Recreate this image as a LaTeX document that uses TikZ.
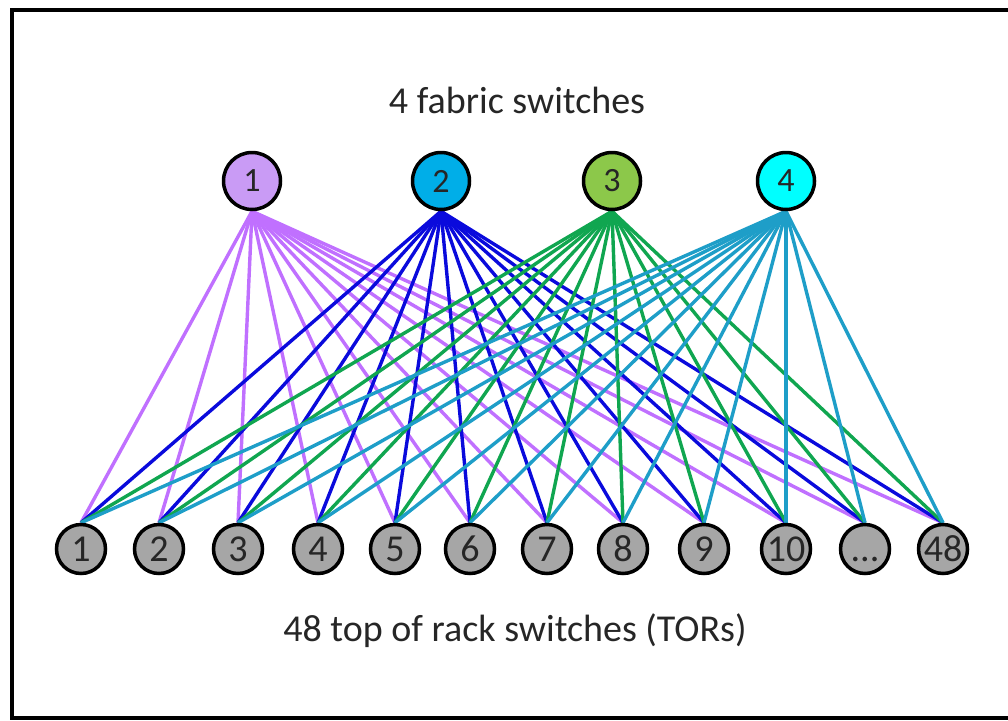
\documentclass[tikz,border=0pt]{standalone}
\usepackage{fontspec}
\setmainfont{Carlito}
\usetikzlibrary{backgrounds}
\definecolor{fillA}{HTML}{C99BF5}
\definecolor{fillB}{HTML}{00AEE8}
\definecolor{fillC}{HTML}{8CC84A}
\definecolor{fillD}{HTML}{00FFFF}
\definecolor{torgray}{HTML}{A6A6A6}
\definecolor{lineA}{HTML}{C070FF}
\definecolor{lineB}{HTML}{0A0ADC}
\definecolor{lineC}{HTML}{10A650}
\definecolor{lineD}{HTML}{1E9EC8}
\definecolor{txt}{HTML}{262626}
\tikzset{
  fabric/.style={circle,draw=black,line width=3.5pt,minimum size=57pt,inner sep=0pt,
    font=\fontsize{34}{34}\selectfont,text=txt},
  tor/.style={circle,draw=black,fill=torgray,line width=3.5pt,minimum size=49pt,inner sep=0pt,
    font=\fontsize{38}{38}\selectfont,text=txt},
  link/.style={line width=3.4pt},
  caption/.style={font=\fontsize{38}{38}\selectfont,text=txt}
}
\begin{document}
\begin{tikzpicture}[x=1pt,y=-1pt]
\useasboundingbox (0,0) rectangle (1008,720);
\node[caption] (title) at (517,100) {4 fabric switches};
\node[caption] (subtitle) at (515,631) {48 top of rack switches (TORs)};
\node[fabric,fill=fillA] (t1) at (252,181) {1};
\node[fabric,fill=fillB] (t2) at (441,181) {2};
\node[fabric,fill=fillC] (t3) at (612,181) {3};
\node[fabric,fill=fillD] (t4) at (786,181) {4};
\foreach \i/\x/\lab in {1/81/1,2/159/2,3/238/3,4/318/4,5/395/5,6/470/6,7/547/7,8/623/8,9/704/9,10/786/10,11/865/{\vphantom{0}.\kern0pt.\kern0pt.},12/943/48}{
  \node[tor] (b\i) at (\x,549) {\lab};
}
\begin{scope}[on background layer]
\fill[white] (0,0) rectangle (1008,720);
\draw[line width=3.5pt] (12,10) rectangle (1015,718);
\foreach \t/\c in {1/lineA,2/lineB,3/lineC,4/lineD}{
  \foreach \i in {1,...,12}{
    \draw[link,\c] (t\t.south) -- (b\i.north);
  }
}
\end{scope}
\end{tikzpicture}
\end{document}
